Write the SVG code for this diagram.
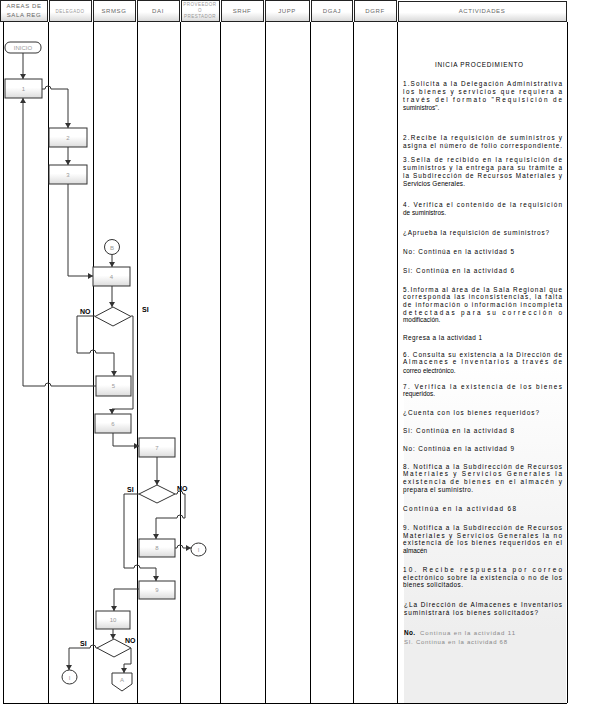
<svg xmlns="http://www.w3.org/2000/svg" width="590" height="711" viewBox="0 0 590 711">
<style>
.lane{stroke:#000;stroke-width:1;fill:none}
.hdr{fill:url(#hg);stroke:#222;stroke-width:1}
.ht{font-family:"Liberation Sans",Arial,sans-serif;font-size:6px;fill:#666;text-anchor:middle;letter-spacing:0.6px}
.hts{font-family:"Liberation Sans",Arial,sans-serif;font-size:4.5px;fill:#999;text-anchor:middle;letter-spacing:0.5px}
.box{fill:url(#bg);stroke:#333;stroke-width:1}
.bt{font-family:"Liberation Sans",Arial,sans-serif;font-size:6px;fill:#999;text-anchor:middle}
.con{fill:none;stroke:#333;stroke-width:1}
.arr{marker-end:url(#ah)}
.lbl{font-family:"Liberation Sans",Arial,sans-serif;font-size:7px;font-weight:bold;fill:#000}
.at{font-family:"Liberation Sans Narrow","Liberation Sans",Arial,sans-serif;font-size:6.4px;fill:#000}
.ag{font-family:"Liberation Sans",Arial,sans-serif;font-size:6px;fill:#888}
</style>
<defs>
<linearGradient id="hg" x1="0" y1="0" x2="0" y2="1"><stop offset="0" stop-color="#fff"/><stop offset="0.55" stop-color="#fff"/><stop offset="1" stop-color="#d8d8d8"/></linearGradient>
<linearGradient id="bg" x1="0" y1="0" x2="0" y2="1"><stop offset="0" stop-color="#fff"/><stop offset="0.45" stop-color="#fff"/><stop offset="1" stop-color="#dcdcdc"/></linearGradient>
<linearGradient id="pg" gradientUnits="userSpaceOnUse" x1="0" y1="360" x2="0" y2="630"><stop offset="0" stop-color="#fff"/><stop offset="1" stop-color="#eeeeee"/></linearGradient>
<marker id="ah" markerWidth="6" markerHeight="6" refX="5" refY="3" orient="auto" markerUnits="userSpaceOnUse"><path d="M0,0 L5,3 L0,6 Z" fill="#333"/></marker>
</defs>
<rect width="590" height="711" fill="#fff"/>
<rect x="404" y="40" width="162" height="663" fill="url(#pg)"/>
<g id="header">
<rect class="hdr" x="0.5" y="0.5" width="47" height="21"/>
<text class="ht" x="24" y="8">AREAS DE</text><text class="ht" x="24" y="17">SALA REG</text>
<rect class="hdr" x="49.5" y="0.5" width="42" height="21"/><text class="hts" x="70" y="13">DELEGADO</text>
<rect class="hdr" x="93.5" y="0.5" width="42" height="21"/><text class="ht" x="114" y="13">SRMSG</text>
<rect class="hdr" x="137.5" y="0.5" width="42" height="21"/><text class="ht" x="158" y="13">DAI</text>
<rect class="hdr" x="181.5" y="0.5" width="38" height="21"/><text class="hts" x="200" y="6">PROVEEDOR</text><text class="hts" x="200" y="12">O</text><text class="hts" x="200" y="18">PRESTADOR</text>
<rect class="hdr" x="221.5" y="0.5" width="42" height="21"/><text class="ht" x="242" y="13">SRHF</text>
<rect class="hdr" x="265.5" y="0.5" width="44" height="21"/><text class="ht" x="287" y="13">JUPP</text>
<rect class="hdr" x="311.5" y="0.5" width="41" height="21"/><text class="ht" x="332" y="13">DGAJ</text>
<rect class="hdr" x="354.5" y="0.5" width="42" height="21"/><text class="ht" x="375" y="13">DGRF</text>
<rect class="hdr" x="398.5" y="1.5" width="168" height="20"/><text class="ht" x="482" y="13">ACTIVIDADES</text>
</g>
<g id="lanes">
<path class="lane" d="M3.5,22V703.5M48.5,22V703M93.5,22V703M137.5,22V703M180.5,22V703M220.5,22V703M265.5,22V703M310.5,22V703M353.5,22V703M397.5,22V703M567.5,22V703M3,703.5H567"/>
</g>
<g id="connectors">
<path class="con arr" d="M23,53V79"/>
<path class="con arr" d="M42,89H45a3,3 0 0 1 6,0H68V128"/>
<path class="con arr" d="M68,147V165"/>
<path class="con arr" d="M68,184V276H93"/>
<path class="con arr" d="M112,255V267"/>
<path class="con arr" d="M112,286V307"/>
<path class="con arr" d="M95,316H77V353H90a3,3 0 0 1 6,0H114V376"/>
<path class="con arr" d="M131,316H133V409H112V414"/>
<path class="con arr" d="M96,386H51a3,3 0 0 0 -6,0H23V98"/>
<path class="con arr" d="M113,433V446H139"/>
<path class="con arr" d="M157,457V485"/>
<path class="con arr" d="M175,494H177a3,3 0 0 1 6,0H185V518H183a3,3 0 0 0 -6,0H156V539"/>
<path class="con arr" d="M175,548H177a3,3 0 0 1 6,0H191"/>
<path class="con arr" d="M139,494H124V568H134a3,3 0 0 1 6,0H156V581"/>
<path class="con arr" d="M139,589H114V611"/>
<path class="con arr" d="M113,629V639"/>
<path class="con arr" d="M97,648H96a3,3 0 0 0 -6,0H69V670"/>
<path class="con arr" d="M131,648V664H124V673"/>
</g>
<g id="inicio"><rect x="5" y="42" width="36" height="11" rx="5" fill="#fff" stroke="#333"/><text class="bt" x="23" y="50">INICIO</text></g>
<g id="n1"><rect class="box" x="5" y="79" width="37" height="19"/><text class="bt" x="23.5" y="91">1</text></g>
<g id="n2"><rect class="box" x="49" y="128" width="38" height="19"/><text class="bt" x="68" y="140">2</text></g>
<g id="n3"><rect class="box" x="49" y="165" width="38" height="19"/><text class="bt" x="68" y="177">3</text></g>
<g id="cB"><circle cx="112" cy="247" r="7.5" fill="#fff" stroke="#333"/><text class="bt" x="112" y="249.5">B</text></g>
<g id="n4"><rect class="box" x="93" y="267" width="37" height="19"/><text class="bt" x="111.5" y="279">4</text></g>
<g id="d1"><polygon points="113,307 131,316.5 113,326 95,316.5" fill="#fff" stroke="#333"/></g>
<text class="lbl" x="80" y="314">NO</text><text class="lbl" x="142" y="312">SI</text>
<g id="n5"><rect class="box" x="96" y="376" width="35" height="20"/><text class="bt" x="113.5" y="388">5</text></g>
<g id="n6"><rect class="box" x="95" y="414" width="36" height="19"/><text class="bt" x="113" y="426">6</text></g>
<g id="n7"><rect class="box" x="139" y="438" width="36" height="19"/><text class="bt" x="157" y="450">7</text></g>
<g id="d2"><polygon points="157,485 175,494 157,503 139,494" fill="#fff" stroke="#333"/></g>
<text class="lbl" x="127" y="492">SI</text><text class="lbl" x="177" y="491">NO</text>
<g id="n8"><rect class="box" x="139" y="539" width="36" height="18"/><text class="bt" x="157" y="550">8</text></g>
<g id="c1"><ellipse cx="198.5" cy="549.5" rx="7.5" ry="6.5" fill="#fff" stroke="#333"/><text class="bt" x="198.5" y="552">I</text></g>
<g id="n9"><rect class="box" x="139" y="581" width="36" height="18"/><text class="bt" x="157" y="592">9</text></g>
<g id="n10"><rect class="box" x="96" y="611" width="34" height="18"/><text class="bt" x="113" y="622">10</text></g>
<g id="d3"><polygon points="114,639 131,648 114,657 97,648" fill="#fff" stroke="#333"/></g>
<text class="lbl" x="80" y="646">SI</text><text class="lbl" x="125" y="643">NO</text>
<g id="c2"><ellipse cx="69.5" cy="677" rx="7.5" ry="7" fill="#fff" stroke="#333"/><text class="bt" x="69.5" y="679.5">I</text></g>
<g id="cA"><polygon points="112,673 132,673 132,684 122,691 112,684" fill="#fff" stroke="#333"/><text class="bt" x="122" y="682">A</text></g>
<g id="actividades">
<text class="at" x="435" y="67" textLength="88" lengthAdjust="spacing">INICIA PROCEDIMIENTO</text>
<text class="at" x="403" y="86" textLength="159" lengthAdjust="spacing">1.Solicita a la Delegación Administrativa</text>
<text class="at" x="403" y="94" textLength="159" lengthAdjust="spacing">los bienes y servicios que requiera a</text>
<text class="at" x="403" y="102" textLength="159" lengthAdjust="spacing">través del formato "Requisición de</text>
<text class="at" x="403" y="110">suministros".</text>
<text class="at" x="403" y="140" textLength="159" lengthAdjust="spacing">2.Recibe la requisición de suministros y</text>
<text class="at" x="403" y="148" textLength="159" lengthAdjust="spacing">asigna el número de folio correspondiente.</text>
<text class="at" x="403" y="162" textLength="159" lengthAdjust="spacing">3.Sella de recibido en la requisición de</text>
<text class="at" x="403" y="170" textLength="159" lengthAdjust="spacing">suministros y la entrega para su trámite a</text>
<text class="at" x="403" y="178" textLength="159" lengthAdjust="spacing">la Subdirección de Recursos Materiales y</text>
<text class="at" x="403" y="186" textLength="62" lengthAdjust="spacing">Servicios Generales.</text>
<text class="at" x="403" y="207" textLength="159" lengthAdjust="spacing">4. Verifica el contenido de la requisición</text>
<text class="at" x="403" y="215">de suministros.</text>
<text class="at" x="403" y="235" textLength="146" lengthAdjust="spacing">¿Aprueba la requisición de suministros?</text>
<text class="at" x="403" y="254" textLength="111" lengthAdjust="spacing">No: Continúa en la actividad 5</text>
<text class="at" x="403" y="273" textLength="111" lengthAdjust="spacing">Si: Continúa en la actividad 6</text>
<text class="at" x="403" y="292" textLength="159" lengthAdjust="spacing">5.Informa al área de la Sala Regional que</text>
<text class="at" x="403" y="299" textLength="159" lengthAdjust="spacing">corresponda las inconsistencias, la falta</text>
<text class="at" x="403" y="307" textLength="159" lengthAdjust="spacing">de información o información incompleta</text>
<text class="at" x="403" y="315" textLength="159" lengthAdjust="spacing">detectadas para su corrección o</text>
<text class="at" x="403" y="322">modificación.</text>
<text class="at" x="403" y="340" textLength="79" lengthAdjust="spacing">Regresa a la actividad 1</text>
<text class="at" x="403" y="357" textLength="159" lengthAdjust="spacing">6. Consulta su existencia a la Dirección de</text>
<text class="at" x="403" y="364" textLength="159" lengthAdjust="spacing">Almacenes e Inventarios a través de</text>
<text class="at" x="403" y="373">correo electrónico.</text>
<text class="at" x="403" y="389" textLength="159" lengthAdjust="spacing">7. Verifica la existencia de los bienes</text>
<text class="at" x="403" y="396">requeridos.</text>
<text class="at" x="403" y="415" textLength="136" lengthAdjust="spacing">¿Cuenta con los bienes requeridos?</text>
<text class="at" x="403" y="433" textLength="111" lengthAdjust="spacing">Si: Continúa en la actividad 8</text>
<text class="at" x="403" y="451" textLength="111" lengthAdjust="spacing">No: Continúa en la actividad 9</text>
<text class="at" x="403" y="469" textLength="159" lengthAdjust="spacing">8. Notifica a la Subdirección de Recursos</text>
<text class="at" x="403" y="476" textLength="159" lengthAdjust="spacing">Materiales y Servicios Generales la</text>
<text class="at" x="403" y="484" textLength="159" lengthAdjust="spacing">existencia de bienes en el almacén y</text>
<text class="at" x="403" y="492" textLength="70" lengthAdjust="spacing">prepara el suministro.</text>
<text class="at" x="403" y="511" textLength="113" lengthAdjust="spacing">Continúa en la actividad 68</text>
<text class="at" x="403" y="530" textLength="159" lengthAdjust="spacing">9. Notifica a la Subdirección de Recursos</text>
<text class="at" x="403" y="538" textLength="159" lengthAdjust="spacing">Materiales y Servicios Generales la no</text>
<text class="at" x="403" y="545" textLength="159" lengthAdjust="spacing">existencia de los bienes requeridos en el</text>
<text class="at" x="403" y="553">almacén</text>
<text class="at" x="403" y="572" textLength="159" lengthAdjust="spacing">10. Recibe respuesta por correo</text>
<text class="at" x="403" y="580" textLength="159" lengthAdjust="spacing">electrónico sobre la existencia o no de los</text>
<text class="at" x="403" y="587" textLength="60" lengthAdjust="spacing">bienes solicitados.</text>
<text class="at" x="404" y="607" textLength="158" lengthAdjust="spacing">¿La Dirección de Almacenes e Inventarios</text>
<text class="at" x="404" y="615" textLength="134" lengthAdjust="spacing">suministrará los bienes solicitados?</text>
<text class="at" x="404" y="635" style="font-weight:bold" textLength="11" lengthAdjust="spacing">No.</text>
<text class="ag" x="420" y="635" textLength="95" lengthAdjust="spacing">Continua en la actividad 11</text>
<text class="ag" x="404" y="644" textLength="103" lengthAdjust="spacing">SI. Continua en la actividad 68</text>
</g>
</svg>
